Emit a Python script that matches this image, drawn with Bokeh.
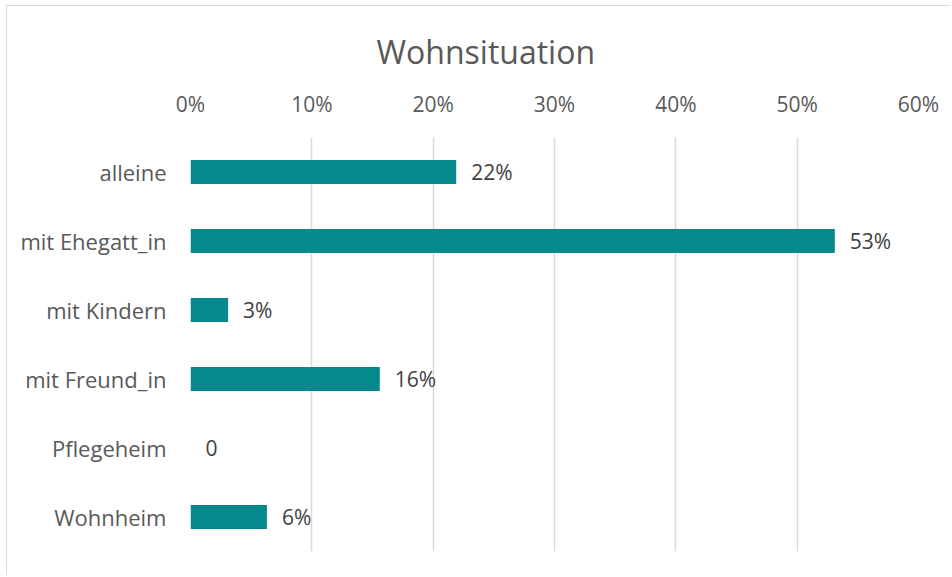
from bokeh.plotting import figure
from bokeh.models import FactorRange, FixedTicker, NumeralTickFormatter, ColumnDataSource, LabelSet
from bokeh.core.properties import value
from bokeh.embed import file_html
from bokeh.resources import INLINE

categories = ["alleine", "mit Ehegatt_in", "mit Kindern", "mit Freund_in", "Pflegeheim", "Wohnheim"]
values = [0.219, 0.531, 0.031, 0.156, 0.0, 0.063]
value_labels = ["22%", "53%", "3%", "16%", "0", "6%"]
tick_values = [0, 0.1, 0.2, 0.3, 0.4, 0.5, 0.6]

src = ColumnDataSource(dict(cat=categories, val=values, lab=value_labels))

p = figure(
    width=944, height=570,
    y_range=FactorRange(factors=list(reversed(categories)), range_padding=0),
    x_range=(0, 0.6),
    x_axis_location="above",
    output_backend="svg", toolbar_location=None,
    min_border_left=183, min_border_right=33, min_border_top=131, min_border_bottom=25,
    title="Wohnsituation",
)
p.styles = {"border-left": "1px solid #d9d9d9", "border-top": "1px solid #d9d9d9",
            "margin-left": "6px", "margin-top": "5px"}

p.title.align = "left"
p.title.offset = 186
p.title.text_font = "Open Sans"
p.title.text_font_size = "32px"
p.title.text_font_style = "normal"
p.title.text_color = "#595959"
p.title.standoff = 28

p.hbar(y="cat", right="val", left=0, height=0.35, source=src,
       fill_color="#05898C", line_color=None)

labels = LabelSet(x="val", y="cat", text="lab", source=src, x_offset=15,
                  text_baseline="middle", text_font=value("Open Sans"), text_font_size=value("21px"),
                  text_color=value("#404040"))
p.add_layout(labels)

p.xaxis.ticker = FixedTicker(ticks=tick_values)
p.xaxis.formatter = NumeralTickFormatter(format="0%")
for ax in (p.xaxis, p.yaxis):
    ax.axis_line_color = None
    ax.major_tick_line_color = None
    ax.minor_tick_line_color = None
    ax.major_label_text_font = "Open Sans"
    ax.major_label_text_color = "#595959"
p.xaxis.major_label_text_font_size = "21px"
p.yaxis.major_label_text_font_size = "22px"
p.xaxis.major_label_standoff = 14
p.yaxis.major_label_standoff = 18

p.xgrid.grid_line_color = "#d9d9d9"
p.xgrid.grid_line_width = 1.5
p.ygrid.grid_line_color = None
p.outline_line_color = None

open("out.html", "w").write(file_html(p, INLINE))
